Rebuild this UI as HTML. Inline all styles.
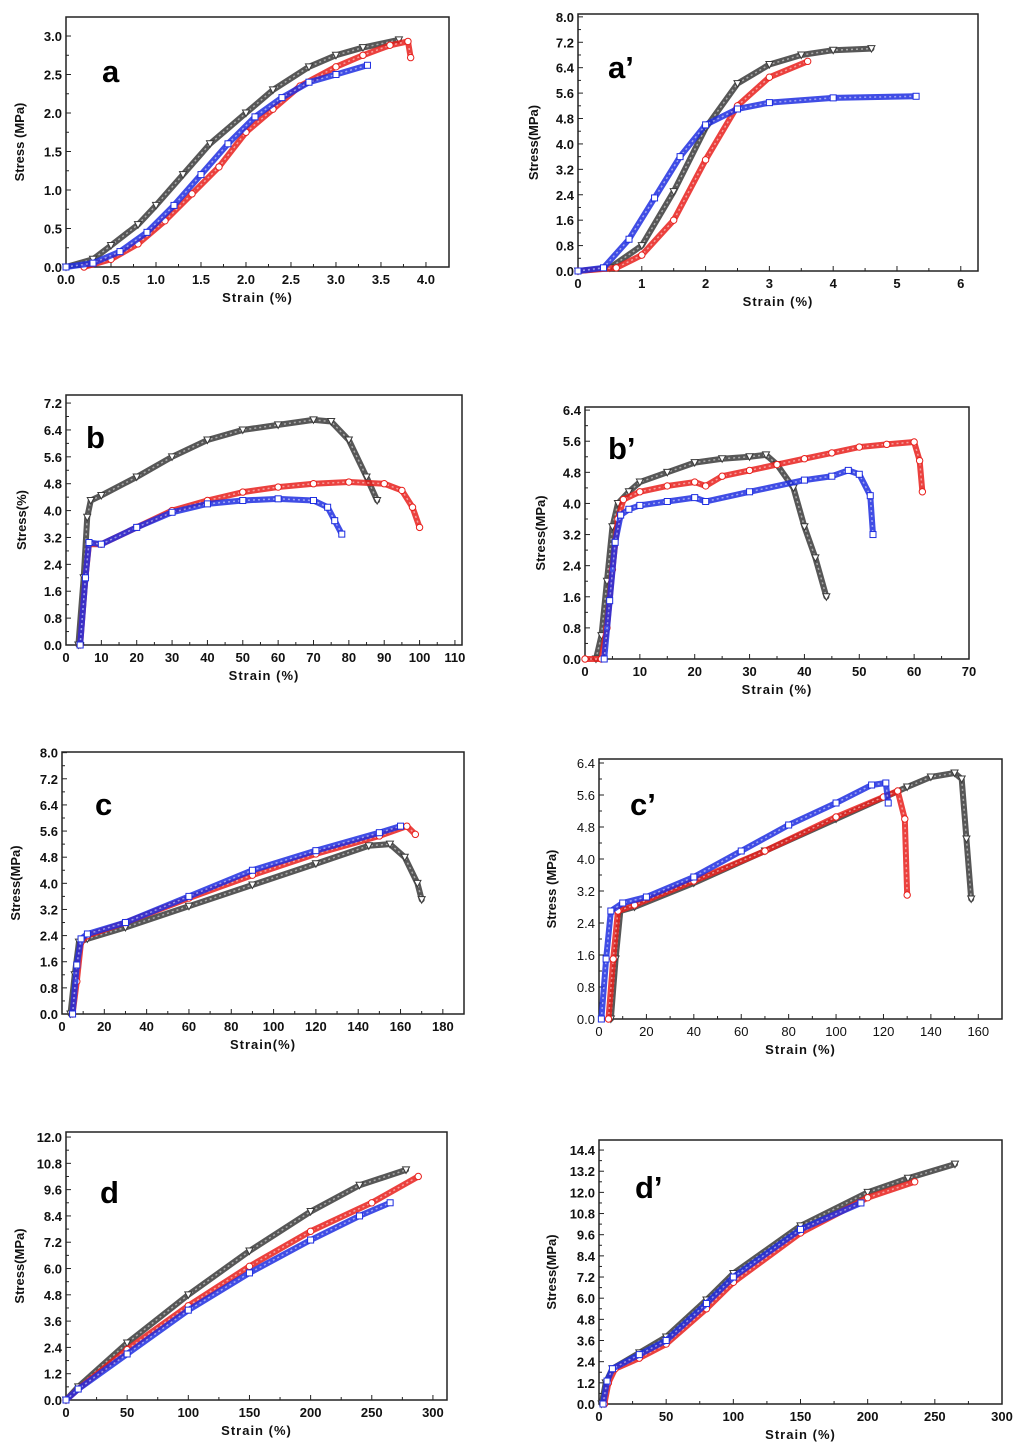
<!DOCTYPE html>
<html><head><meta charset="utf-8"><style>
html,body{margin:0;padding:0;background:#fff;}
svg{display:block;font-family:"Liberation Sans",Arial,sans-serif;}
</style></head><body>
<svg id="fig" width="1024" height="1455" viewBox="0 0 1024 1455" xmlns="http://www.w3.org/2000/svg"></svg>
<script>
// ---- Data (strain %, stress MPa) ----
const aBlack=[[0,0],[0.3,0.1],[0.5,0.28],[0.8,0.55],[1.0,0.8],[1.3,1.2],[1.6,1.6],[2.0,2.0],[2.3,2.3],[2.7,2.6],[3.0,2.75],[3.3,2.85],[3.7,2.95]];
const aRed=[[0.2,0],[0.5,0.1],[0.8,0.3],[1.1,0.6],[1.4,0.95],[1.7,1.3],[2.0,1.75],[2.3,2.05],[2.6,2.35],[3.0,2.6],[3.3,2.75],[3.6,2.88],[3.8,2.93],[3.83,2.72]];
const aBlue=[[0,0],[0.3,0.05],[0.6,0.2],[0.9,0.45],[1.2,0.8],[1.5,1.2],[1.8,1.6],[2.1,1.95],[2.4,2.2],[2.7,2.4],[3.0,2.5],[3.35,2.62]];
const apBlack=[[0,0],[0.5,0.1],[1,0.8],[1.5,2.5],[2,4.5],[2.5,5.9],[3,6.5],[3.5,6.8],[4,6.95],[4.6,7.0]];
const apRed=[[0,0],[0.6,0.1],[1,0.5],[1.5,1.6],[2,3.5],[2.5,5.2],[3,6.1],[3.6,6.6]];
const apBlue=[[0,0],[0.4,0.1],[0.8,1.0],[1.2,2.3],[1.6,3.6],[2,4.6],[2.5,5.1],[3,5.3],[4,5.45],[5.3,5.5]];
const bBlack=[[3.5,0],[5,2],[6,3.8],[7,4.3],[10,4.45],[20,5.0],[30,5.6],[40,6.1],[50,6.4],[60,6.55],[70,6.7],[75,6.65],[80,6.1],[85,5.0],[88,4.3]];
const bRed=[[4,0],[5.5,2],[6.5,3.0],[10,3.0],[20,3.5],[30,4.0],[40,4.3],[50,4.55],[60,4.7],[70,4.8],[80,4.85],[90,4.8],[95,4.6],[98,4.1],[100,3.5]];
const bBlue=[[4,0],[5.5,2],[6.5,3.05],[10,3.0],[20,3.5],[30,3.95],[40,4.2],[50,4.3],[60,4.35],[70,4.3],[74,4.1],[76,3.7],[78,3.3]];
const bpBlack=[[2,0],[3,0.6],[4,2],[5,3.4],[6,4.0],[8,4.3],[10,4.55],[15,4.8],[20,5.05],[25,5.15],[30,5.2],[33,5.25],[35,5.0],[38,4.4],[40,3.4],[42,2.6],[44,1.6]];
const bpRed=[[0,0],[3,0],[4,0.8],[5,2.3],[6,3.6],[7,4.1],[10,4.3],[15,4.45],[20,4.55],[22,4.45],[25,4.7],[30,4.85],[35,5.0],[40,5.15],[45,5.3],[50,5.45],[55,5.52],[60,5.58],[61,5.1],[61.5,4.3]];
const bpBlue=[[3.5,0],[4.5,1.5],[5.5,3.0],[6.5,3.7],[8,3.85],[10,3.95],[15,4.05],[20,4.15],[22,4.05],[30,4.3],[40,4.6],[45,4.7],[48,4.85],[50,4.75],[52,4.2],[52.5,3.2]];
const cBlack=[[4,0],[6,1.2],[8,2.2],[12,2.3],[30,2.65],[60,3.3],[90,3.95],[120,4.6],[145,5.15],[155,5.2],[162,4.8],[168,4.0],[170,3.5]];
const cRed=[[5,0],[7,1.0],[9,2.2],[12,2.4],[30,2.8],[60,3.55],[90,4.25],[120,4.9],[150,5.45],[163,5.75],[167,5.5]];
const cBlue=[[5,0],[7,1.5],[9,2.3],[12,2.45],[30,2.8],[60,3.6],[90,4.4],[120,5.0],[150,5.55],[160,5.75]];
const cpBlack=[[5,0],[7,1.5],[9,2.7],[15,2.8],[40,3.4],[70,4.2],[100,5.0],[130,5.8],[140,6.05],[150,6.15],[153,6.0],[155,4.5],[157,3.0]];
const cpRed=[[4,0],[6,1.5],[8,2.7],[15,2.85],[40,3.45],[70,4.2],[100,5.05],[120,5.55],[126,5.7],[129,5.0],[130,3.1]];
const cpBlue=[[1,0],[3,1.5],[5,2.7],[10,2.9],[20,3.05],[40,3.55],[60,4.2],[80,4.85],[100,5.4],[115,5.85],[121,5.9],[122,5.4]];
const dBlack=[[0,0],[10,0.6],[50,2.6],[100,4.8],[150,6.8],[200,8.6],[240,9.8],[278,10.5]];
const dRed=[[0,0],[10,0.5],[50,2.3],[100,4.3],[150,6.1],[200,7.7],[250,9.0],[288,10.2]];
const dBlue=[[0,0],[10,0.5],[50,2.1],[100,4.1],[150,5.8],[200,7.3],[240,8.4],[265,9.0]];
const dpBlack=[[2,0],[5,1.2],[10,2.0],[30,2.9],[50,3.8],[80,5.9],[100,7.4],[150,10.1],[200,12.0],[230,12.8],[265,13.6]];
const dpRed=[[4,0],[7,1.2],[12,2.0],[30,2.6],[50,3.4],[80,5.4],[100,6.9],[150,9.7],[200,11.7],[235,12.6]];
const dpBlue=[[3,0],[6,1.3],[10,2.0],[30,2.8],[50,3.6],[80,5.7],[100,7.2],[150,9.9],[195,11.4]];
// tick labels
const aXTicks=[0,0.5,1.0,1.5,2.0,2.5,3.0,3.5,4.0], aYTicks=[0,0.5,1.0,1.5,2.0,2.5,3.0];
const apXTicks=[0,1,2,3,4,5,6], apYTicks=[0,0.8,1.6,2.4,3.2,4.0,4.8,5.6,6.4,7.2,8.0];
const bXTicks=[0,10,20,30,40,50,60,70,80,90,100,110], bYTicks=[0,0.8,1.6,2.4,3.2,4.0,4.8,5.6,6.4,7.2];
const bpXTicks=[0,10,20,30,40,50,60,70], bpYTicks=[0,0.8,1.6,2.4,3.2,4.0,4.8,5.6,6.4];
const cXTicks=[0,20,40,60,80,100,120,140,160,180], cYTicks=[0,0.8,1.6,2.4,3.2,4.0,4.8,5.6,6.4,7.2,8.0];
const cpXTicks=[0,20,40,60,80,100,120,140,160], cpYTicks=[0,0.8,1.6,2.4,3.2,4.0,4.8,5.6,6.4];
const dXTicks=[0,50,100,150,200,250,300], dYTicks=[0,1.2,2.4,3.6,4.8,6.0,7.2,8.4,9.6,10.8,12.0];
const dpXTicks=[0,50,100,150,200,250,300], dpYTicks=[0,1.2,2.4,3.6,4.8,6.0,7.2,8.4,9.6,10.8,12.0,13.2,14.4];

const NS="http://www.w3.org/2000/svg";
const svg=document.getElementById('fig');
function mk(tag,parent){const e=document.createElementNS(NS,tag);parent.appendChild(e);return e;}
const COL={black:'#3a3a3a',red:'#e8201c',blue:'#1e2ee0'};

function panel(o){
  const g=mk('g',svg);
  
  
  const sx=v=>o.L+(v-o.xmin)/(o.xmax-o.xmin)*(o.R-o.L);
  const sy=v=>o.B-(v)/(o.ymax)*(o.B-o.T);
  const fr=mk('rect',g);
  
  
  fr.setAttribute('x',o.L);fr.setAttribute('y',o.T);fr.setAttribute('width',o.R-o.L);fr.setAttribute('height',o.B-o.T);
  fr.setAttribute('fill','none');fr.setAttribute('stroke','#222');fr.setAttribute('stroke-width','1.5');
  const fmt=o.fmt;
  o.xt.forEach((v,i)=>{
    const x=sx(v);
    const t=mk('line',g);t.setAttribute('x1',x);t.setAttribute('x2',x);t.setAttribute('y1',o.B);t.setAttribute('y2',o.B-5);t.setAttribute('stroke','#222');
    if(i<o.xt.length-1){const m=sx((v+o.xt[i+1])/2);const t2=mk('line',g);t2.setAttribute('x1',m);t2.setAttribute('x2',m);t2.setAttribute('y1',o.B);t2.setAttribute('y2',o.B-3);t2.setAttribute('stroke','#222');}
    const tx=mk('text',g);
    
    
    tx.setAttribute('x',x);tx.setAttribute('y',o.B+17);tx.setAttribute('text-anchor','middle');tx.setAttribute('font-size','13');tx.setAttribute('font-weight',o.bold?'bold':'normal');tx.setAttribute('fill','#111');
    tx.textContent=o.xf(v);
  });
  o.yt.forEach((v,i)=>{
    const y=sy(v);
    const t=mk('line',g);t.setAttribute('x1',o.L);t.setAttribute('x2',o.L+5);t.setAttribute('y1',y);t.setAttribute('y2',y);t.setAttribute('stroke','#222');
    if(i<o.yt.length-1){const m=sy((v+o.yt[i+1])/2);const t2=mk('line',g);t2.setAttribute('x1',o.L);t2.setAttribute('x2',o.L+3);t2.setAttribute('y1',m);t2.setAttribute('y2',m);t2.setAttribute('stroke','#222');}
    const tx=mk('text',g);
    
    
    tx.setAttribute('x',o.L-4);tx.setAttribute('y',y+5);tx.setAttribute('text-anchor','end');tx.setAttribute('font-size','13');tx.setAttribute('font-weight',o.bold?'bold':'normal');tx.setAttribute('fill','#111');
    tx.textContent=v.toFixed(1);
  });
  const xl=mk('text',g);
  
  
  xl.setAttribute('x',(o.L+o.R)/2);xl.setAttribute('y',o.B+35);xl.setAttribute('text-anchor','middle');xl.setAttribute('font-size','13');xl.setAttribute('font-weight','bold');xl.setAttribute('letter-spacing','1');xl.setAttribute('fill','#111');
  xl.textContent=o.xlab;
  const yl=mk('text',g);
  
  
  const yx=o.L-o.yoff, yy=(o.T+o.B)/2;
  yl.setAttribute('x',yx);yl.setAttribute('y',yy);yl.setAttribute('text-anchor','middle');yl.setAttribute('font-size','13');yl.setAttribute('font-weight','bold');yl.setAttribute('fill','#111');
  yl.setAttribute('transform','rotate(-90 '+yx+' '+yy+')');
  yl.textContent=o.ylab;
  const lt=mk('text',g);
  
  
  lt.setAttribute('x',o.lx);lt.setAttribute('y',o.ly);lt.setAttribute('font-size','31');lt.setAttribute('font-weight','bold');lt.setAttribute('fill','#000');
  lt.textContent=o.id;
  o.series.forEach(s=>{
    const pts=s.d.map(p=>sx(p[0])+','+sy(p[1])).join(' ');
    const pl=mk('polyline',g);
    
    
    pl.setAttribute('points',pts);pl.setAttribute('fill','none');pl.setAttribute('stroke',COL[s.c]);pl.setAttribute('stroke-width','6');pl.setAttribute('stroke-linejoin','round');pl.setAttribute('stroke-linecap','round');pl.setAttribute('opacity','0.85');
    const pl2=mk('polyline',g);
    pl2.setAttribute('points',pts);pl2.setAttribute('fill','none');pl2.setAttribute('stroke','#fff');pl2.setAttribute('stroke-width','1.5');pl2.setAttribute('stroke-dasharray','2 3');pl2.setAttribute('opacity','0.5');
    s.d.forEach(p=>{
      const x=sx(p[0]),y=sy(p[1]);let m;
      if(s.c==='red'){m=mk('circle',g);m.setAttribute('cx',x);m.setAttribute('cy',y);m.setAttribute('r',3.2);}
      else if(s.c==='blue'){m=mk('rect',g);m.setAttribute('x',x-3);m.setAttribute('y',y-3);m.setAttribute('width',6);m.setAttribute('height',6);}
      else{m=mk('polygon',g);m.setAttribute('points',(x-3.5)+','+(y-3)+' '+(x+3.5)+','+(y-3)+' '+x+','+(y+3.5));}
      
      
      m.setAttribute('fill','#fff');m.setAttribute('stroke',COL[s.c]);m.setAttribute('stroke-width','1');
    });
  });
}
const f1=v=>v.toFixed(1), f0=v=>String(v);
panel({id:'a',L:66,R:449,T:17,B:267,xmin:0,xmax:4.256,ymax:3.247,xt:aXTicks,yt:aYTicks,xf:f1,bold:true,xlab:'Strain (%)',ylab:'Stress (MPa)',yoff:42,lx:102,ly:82,series:[{c:'black',d:aBlack},{c:'red',d:aRed},{c:'blue',d:aBlue}]});
panel({id:'a\u2019',L:578,R:978,T:14,B:271,xmin:0,xmax:6.27,ymax:8.09,xt:apXTicks,yt:apYTicks,xf:f0,bold:true,xlab:'Strain (%)',ylab:'Stress(MPa)',yoff:40,lx:608,ly:78,series:[{c:'black',d:apBlack},{c:'red',d:apRed},{c:'blue',d:apBlue}]});
panel({id:'b',L:66,R:462,T:395,B:645,xmin:0,xmax:112,ymax:7.44,xt:bXTicks,yt:bYTicks,xf:f0,bold:true,xlab:'Strain (%)',ylab:'Stress(%)',yoff:40,lx:86,ly:448,series:[{c:'black',d:bBlack},{c:'red',d:bRed},{c:'blue',d:bBlue}]});
panel({id:'b\u2019',L:585,R:969,T:407,B:659,xmin:0,xmax:70,ymax:6.48,xt:bpXTicks,yt:bpYTicks,xf:f0,bold:true,xlab:'Strain (%)',ylab:'Stress(MPa)',yoff:40,lx:608,ly:459,series:[{c:'black',d:bpBlack},{c:'red',d:bpRed},{c:'blue',d:bpBlue}]});
panel({id:'c',L:62,R:464,T:752,B:1014,xmin:0,xmax:190,ymax:8.02,xt:cXTicks,yt:cYTicks,xf:f0,bold:true,xlab:'Strain(%)',ylab:'Stress(MPa)',yoff:42,lx:95,ly:815,series:[{c:'black',d:cBlack},{c:'red',d:cRed},{c:'blue',d:cBlue}]});
panel({id:'c\u2019',L:599,R:1002,T:759,B:1019,xmin:0,xmax:170,ymax:6.5,xt:cpXTicks,yt:cpYTicks,xf:f0,bold:false,xlab:'Strain (%)',ylab:'Stress (MPa)',yoff:43,lx:630,ly:815,series:[{c:'black',d:cpBlack},{c:'red',d:cpRed},{c:'blue',d:cpBlue}]});
panel({id:'d',L:66,R:447,T:1132,B:1400,xmin:0,xmax:311.5,ymax:12.23,xt:dXTicks,yt:dYTicks,xf:f0,bold:true,xlab:'Strain (%)',ylab:'Stress(MPa)',yoff:42,lx:100,ly:1203,series:[{c:'black',d:dBlack},{c:'red',d:dRed},{c:'blue',d:dBlue}]});
panel({id:'d\u2019',L:599,R:1002,T:1140,B:1404,xmin:0,xmax:300,ymax:14.97,xt:dpXTicks,yt:dpYTicks,xf:f0,bold:true,xlab:'Strain (%)',ylab:'Stress(MPa)',yoff:43,lx:635,ly:1198,series:[{c:'black',d:dpBlack},{c:'red',d:dpRed},{c:'blue',d:dpBlue}]});
</script>
</body></html>
